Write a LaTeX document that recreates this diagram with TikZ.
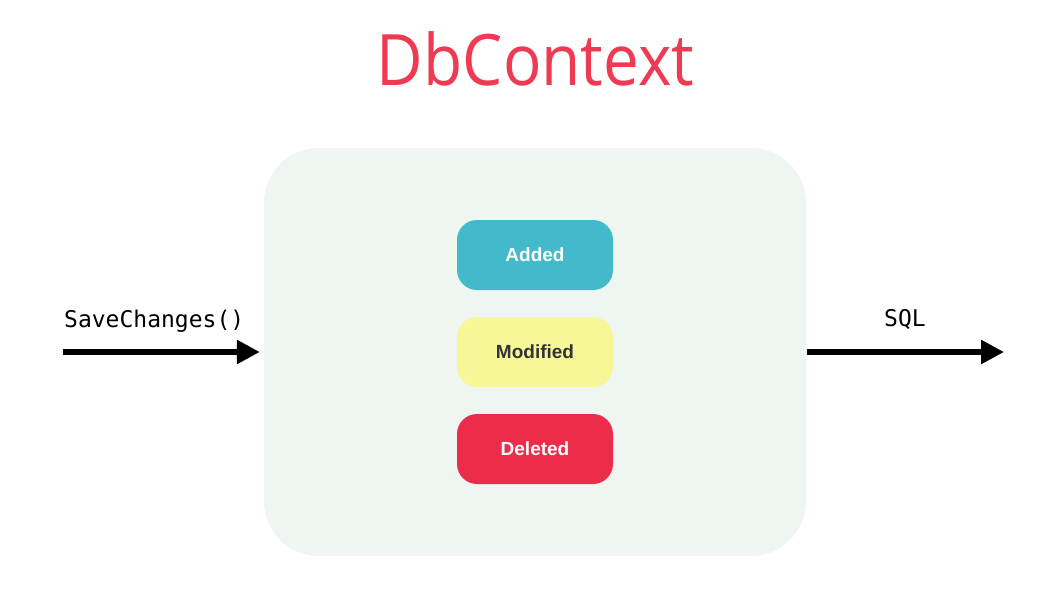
\documentclass[tikz,border=0pt]{standalone}
\usepackage{fontspec}
\setmainfont{Open Sans}
\newfontfamily\boxfont{Liberation Sans}
\newfontfamily\codefont{DejaVu Sans Mono}
\usetikzlibrary{arrows.meta}
\definecolor{titlered}{HTML}{EE3A53}
\definecolor{ctxfill}{HTML}{EFF5F1}
\definecolor{addedc}{HTML}{42BACB}
\definecolor{modc}{HTML}{F7F797}
\definecolor{delc}{HTML}{EC2D4A}
\definecolor{darktext}{HTML}{333333}
\tikzset{
  statebox/.style={rounded corners=20pt, minimum width=156pt, minimum height=70pt,
    inner sep=0pt, font=\boxfont\bfseries\fontsize{19}{22}\selectfont},
  flow/.style={line width=6pt, -{Triangle[length=23pt,width=23pt]}},
  codelabel/.style={font=\codefont\fontsize{23}{27}\selectfont, inner sep=0pt}
}
\begin{document}
\begin{tikzpicture}[x=1pt,y=-1pt]
\useasboundingbox[fill=white] (0,0) rectangle (1053,600);
\node[font=\fontsize{71}{80}\selectfont, text=titlered, anchor=base, inner sep=0pt, xscale=0.9] (title) at (535.5,85) {DbContext};
\node[fill=ctxfill, rounded corners=55pt, minimum width=542pt, minimum height=408pt, inner sep=0pt] (ctx) at (535,352) {};
\node[statebox, fill=addedc, text=white] (added) at (535,255) {Added};
\node[statebox, fill=modc, text=darktext] (modified) at (535,352) {Modified};
\node[statebox, fill=delc, text=white] (deleted) at (535,449) {Deleted};
\coordinate (lstart) at (63,352);
\coordinate (rend) at (1004,352);
\draw[flow] (lstart) -- ([xshift=-4pt]ctx.west);
\draw[flow] ([xshift=1pt]ctx.east) -- (rend);
\node[codelabel, anchor=base west] (save) at (64,327) {SaveChanges()};
\node[codelabel, anchor=base] (sql) at (905,326) {SQL};
\end{tikzpicture}
\end{document}
